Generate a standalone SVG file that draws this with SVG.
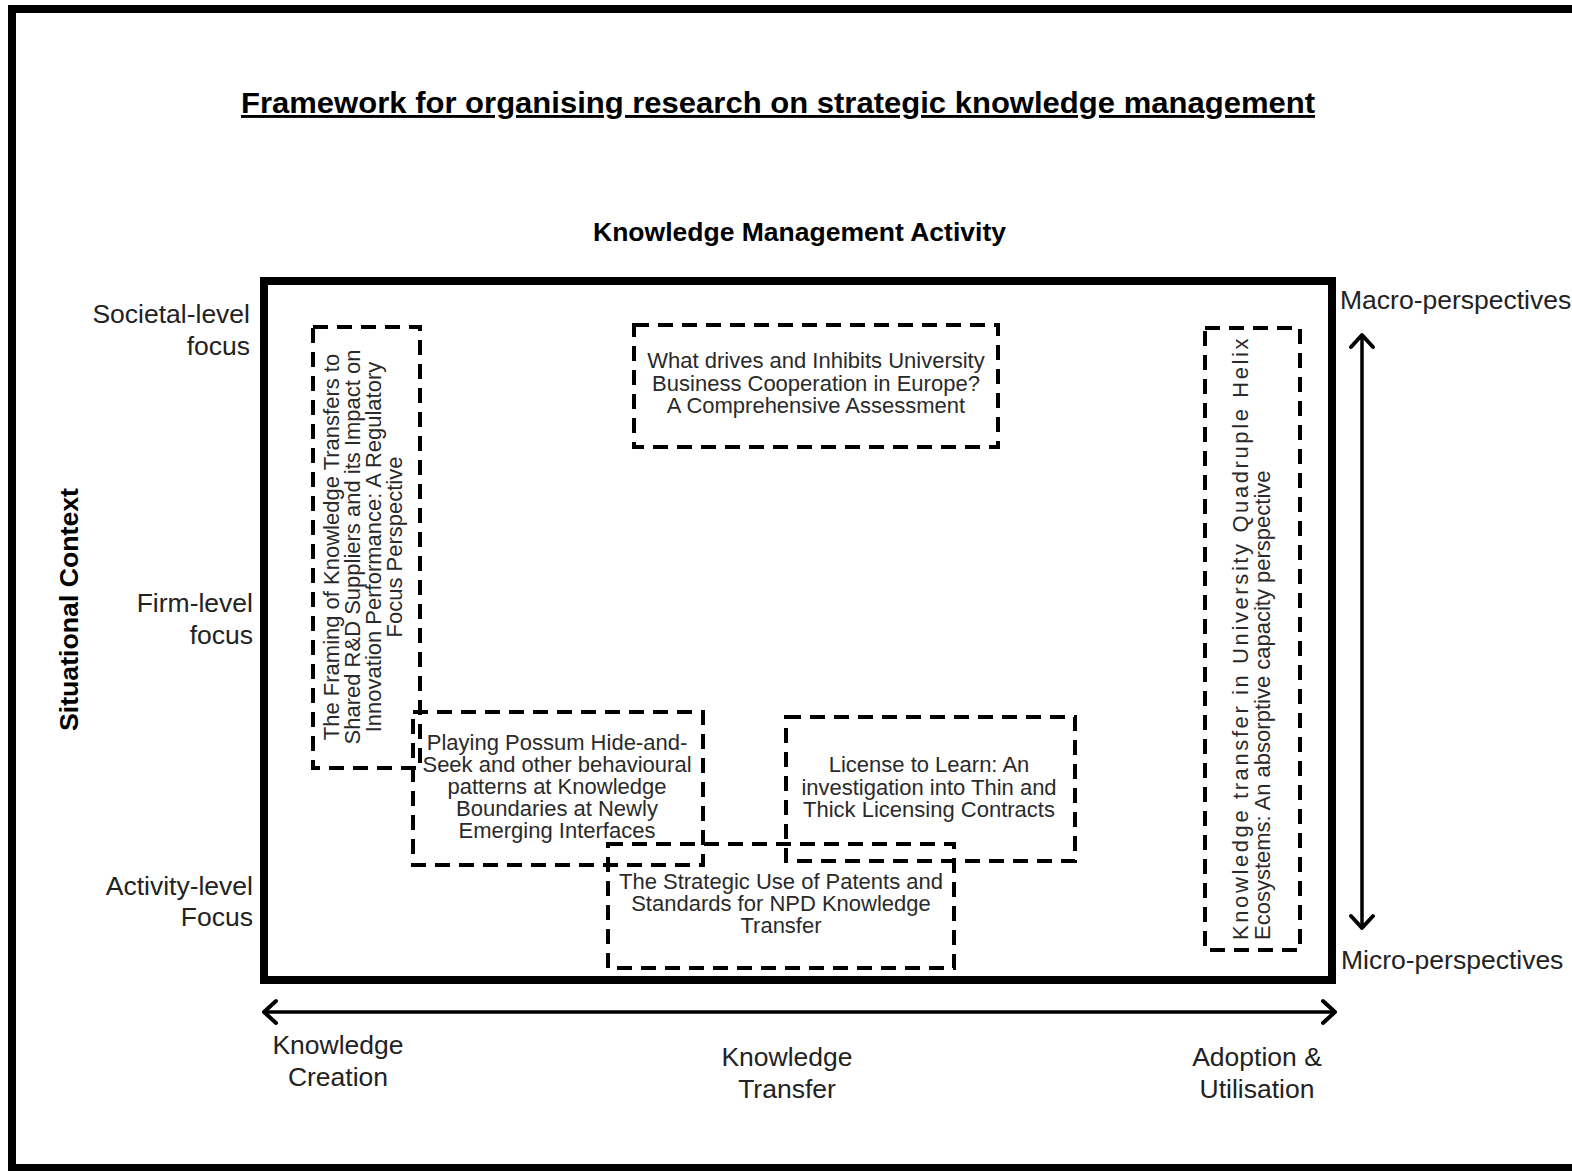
<svg xmlns="http://www.w3.org/2000/svg" width="1572" height="1171" viewBox="0 0 1572 1171">
<style>
text{font-family:"Liberation Sans",Arial,sans-serif;}
.title{font-size:29px;font-weight:bold;fill:#000;text-decoration:underline;}
.head{font-size:25px;font-weight:bold;fill:#000;}
.lab{font-size:26.5px;fill:#222;}
.bt{font-size:22px;fill:#2a2a2a;}
.dash{fill:none;stroke:#000;stroke-width:4;stroke-dasharray:15 9;}
.arrow{fill:none;stroke:#000;stroke-width:3.5;}
</style>
<defs>
<marker id="chev" viewBox="0 0 20 28" refX="16" refY="14" markerWidth="20" markerHeight="28" markerUnits="userSpaceOnUse" orient="auto-start-reverse" overflow="visible">
<path d="M4,3 L16,14 L4,25" fill="none" stroke="#000" stroke-width="4" stroke-linecap="round" stroke-linejoin="round"/>
</marker>
</defs>
<rect x="0" y="0" width="1572" height="1171" fill="#fff"/>
<rect id="frame" x="12" y="9" width="1620" height="1159" fill="none" stroke="#000" stroke-width="8"/>
<text class="title" x="241" y="113" textLength="1074" lengthAdjust="spacingAndGlyphs">Framework for organising research on strategic knowledge management</text>
<text class="head" x="593" y="241" textLength="413" lengthAdjust="spacingAndGlyphs">Knowledge Management Activity</text>
<text class="head" transform="translate(78,731) rotate(-90)" x="0" y="0" textLength="243" lengthAdjust="spacingAndGlyphs">Situational Context</text>
<g id="ylabels" class="lab" text-anchor="end">
<text x="250" y="323">Societal-level</text>
<text x="250" y="355">focus</text>
<text x="253" y="612">Firm-level</text>
<text x="253" y="644">focus</text>
<text x="253" y="895">Activity-level</text>
<text x="253" y="926">Focus</text>
</g>
<g id="xlabels" class="lab" text-anchor="middle">
<text x="338" y="1054">Knowledge</text>
<text x="338" y="1086">Creation</text>
<text x="787" y="1066">Knowledge</text>
<text x="787" y="1098">Transfer</text>
<text x="1257" y="1066">Adoption &amp;</text>
<text x="1257" y="1098">Utilisation</text>
</g>
<text class="lab" x="1340" y="309">Macro-perspectives</text>
<text class="lab" x="1341" y="969">Micro-perspectives</text>
<rect id="main" x="264" y="281" width="1068" height="699" fill="none" stroke="#000" stroke-width="8"/>
<g id="connectors">
<line class="arrow" x1="264" y1="1012" x2="1335" y2="1012" marker-start="url(#chev)" marker-end="url(#chev)"/>
<line class="arrow" x1="1362" y1="335" x2="1362" y2="928" marker-start="url(#chev)" marker-end="url(#chev)"/>
</g>
<g id="framing">
<rect class="dash" x="313" y="327" width="107" height="441"/>
<g class="bt" text-anchor="middle" transform="translate(0,547) rotate(-90)">
<text x="0" y="339">The Framing of Knowledge Transfers to</text>
<text x="0" y="360">Shared R&amp;D Suppliers and its Impact on</text>
<text x="0" y="381">Innovation Performance: A Regulatory</text>
<text x="0" y="402">Focus Perspective</text>
</g>
</g>
<g id="drives">
<rect class="dash" x="634" y="325" width="364" height="122"/>
<g class="bt" text-anchor="middle">
<text x="816" y="368">What drives and Inhibits University</text>
<text x="816" y="391">Business Cooperation in Europe?</text>
<text x="816" y="413">A Comprehensive Assessment</text>
</g>
</g>
<g id="helix">
<rect class="dash" x="1205" y="328" width="95" height="622"/>
<g class="bt" transform="rotate(-90)">
<text x="-940" y="1248" letter-spacing="2.6">Knowledge transfer in University Quadruple Helix</text>
<text x="-940" y="1270">Ecosystems: An absorptive capacity perspective</text>
</g>
</g>
<g id="possum">
<rect class="dash" x="413" y="712" width="290" height="153"/>
<g class="bt" text-anchor="middle">
<text x="557" y="750">Playing Possum Hide-and-</text>
<text x="557" y="772">Seek and other behavioural</text>
<text x="557" y="794">patterns at Knowledge</text>
<text x="557" y="816">Boundaries at Newly</text>
<text x="557" y="838">Emerging Interfaces</text>
</g>
</g>
<g id="license">
<rect class="dash" x="786" y="717" width="289" height="144"/>
<g class="bt" text-anchor="middle">
<text x="929" y="772">License to Learn: An</text>
<text x="929" y="795">investigation into Thin and</text>
<text x="929" y="817">Thick Licensing Contracts</text>
</g>
</g>
<g id="patents">
<rect class="dash" x="608" y="844" width="346" height="124"/>
<g class="bt" text-anchor="middle">
<text x="781" y="889">The Strategic Use of Patents and</text>
<text x="781" y="911">Standards for NPD Knowledge</text>
<text x="781" y="933">Transfer</text>
</g>
</g>
</svg>
